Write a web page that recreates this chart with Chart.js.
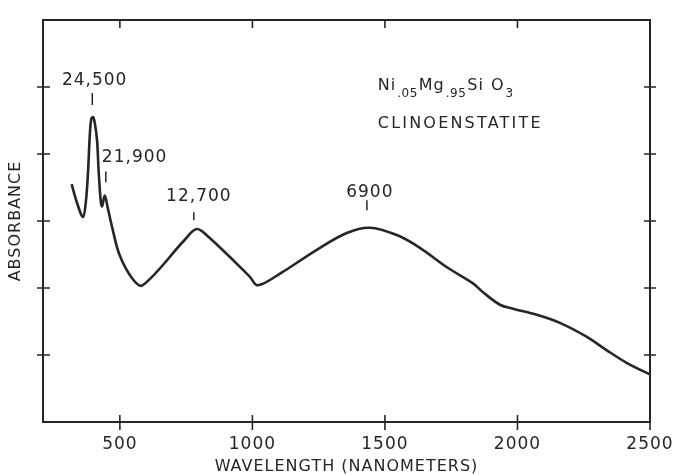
<!DOCTYPE html>
<html>
<head>
<meta charset="utf-8">
<script src="https://cdn.jsdelivr.net/npm/chart.js@4.4.0/dist/chart.umd.min.js"></script>
<style>
  html, body { margin: 0; padding: 0; background: #fff; }
  #wrap { width: 676px; height: 475px; }
</style>
</head>
<body>
<div id="wrap"><canvas id="spectrum-chart" width="676" height="475"></canvas></div>
<script>
// wavelength (nm) and absorbance
const wavelengths = [318, 340, 361, 372, 380, 386, 392, 399, 406, 414, 420, 428, 433, 443, 453, 470, 500, 549, 586, 745, 790, 835, 990, 1020, 1110, 1243, 1356, 1443, 1545, 1632, 1734, 1832, 1869, 1934, 1983, 2073, 2160, 2262, 2337, 2413, 2500];
const absorbance = [3.55, 3.25, 3.06, 3.30, 3.74, 4.24, 4.52, 4.55, 4.45, 4.20, 3.74, 3.29, 3.22, 3.38, 3.22, 2.92, 2.48, 2.13, 2.04, 2.72, 2.88, 2.76, 2.17, 2.04, 2.23, 2.57, 2.82, 2.90, 2.79, 2.60, 2.31, 2.07, 1.94, 1.75, 1.69, 1.60, 1.48, 1.27, 1.07, 0.88, 0.71];

const xTicks = [500, 1000, 1500, 2000, 2500];
const yTicks = [1, 2, 3, 4, 5];

// band labels (wavenumbers, cm-1) and where they sit in data units
const peakLabels = ["24,500", "21,900", "12,700", "6900"];
const peakLabelX = [405, 432, 798, 1443];
const peakLabelY = [5.09, 3.94, 3.37, 3.43];
const peakLabelAlign = ["center", "left", "center", "center"];
const peakMarkX = [396, 447, 779, 1432];
const peakMarkTop = [4.91, 3.74, 3.13, 3.31];
const peakMarkBottom = [4.73, 3.58, 3.01, 3.16];

const sampleX = 1473;
const sampleFormulaY = 4.95;
const sampleNameY = 4.45;

const ink = "#262626";
const letterFont = "DejaVu Sans";

const framePlugin = {
  id: "frame",
  beforeDraw(chart) {
    // lettering-guide text is widely spaced
    chart.ctx.letterSpacing = "1px";
  },
  afterDatasetsDraw(chart) {
    const { ctx, chartArea: a, scales } = chart;
    const x = scales.x, y = scales.y;
    ctx.save();
    ctx.strokeStyle = ink;
    ctx.lineWidth = 2;
    ctx.strokeRect(a.left, a.top, a.right - a.left, a.bottom - a.top);

    ctx.lineWidth = 1.6;
    ctx.beginPath();
    xTicks.forEach((v) => {
      const px = x.getPixelForValue(v);
      ctx.moveTo(px, a.bottom - 7);
      ctx.lineTo(px, a.bottom + 8);
      if (v < 2500) {
        ctx.moveTo(px, a.top);
        ctx.lineTo(px, a.top + 8);
      }
    });
    yTicks.forEach((v) => {
      const py = y.getPixelForValue(v);
      ctx.moveTo(a.left - 6, py);
      ctx.lineTo(a.left + 7, py);
      ctx.moveTo(a.right - 6, py);
      ctx.lineTo(a.right + 6, py);
    });
    ctx.stroke();

    // peak labels
    ctx.fillStyle = ink;
    ctx.font = "17px '" + letterFont + "'";
    ctx.letterSpacing = "1px";
    ctx.textBaseline = "middle";
    peakLabels.forEach((t, i) => {
      ctx.textAlign = peakLabelAlign[i];
      ctx.fillText(t, x.getPixelForValue(peakLabelX[i]), y.getPixelForValue(peakLabelY[i]));
    });
    ctx.lineWidth = 1.5;
    ctx.beginPath();
    peakMarkX.forEach((v, i) => {
      const px = x.getPixelForValue(v);
      ctx.moveTo(px, y.getPixelForValue(peakMarkTop[i]));
      ctx.lineTo(px, y.getPixelForValue(peakMarkBottom[i]));
    });
    ctx.stroke();

    // sample name with subscripts
    let sx = x.getPixelForValue(sampleX);
    const sy = y.getPixelForValue(sampleFormulaY);
    ctx.textAlign = "left";
    ctx.textBaseline = "alphabetic";
    const parts = [["Ni", 0], [".05", 1], ["Mg", 0], [".95", 1], ["Si ", 0], ["O", 0], ["3", 1]];
    parts.forEach(([t, sub]) => {
      ctx.font = (sub ? "12px '" : "16px '") + letterFont + "'";
      ctx.letterSpacing = sub ? "0.5px" : "1px";
      ctx.fillText(t, sx, sub ? sy + 7 : sy);
      sx += ctx.measureText(t).width + 1;
    });
    ctx.font = "16px '" + letterFont + "'";
    ctx.letterSpacing = "2.2px";
    ctx.textBaseline = "middle";
    ctx.fillText("CLINOENSTATITE", x.getPixelForValue(sampleX), y.getPixelForValue(sampleNameY));
    ctx.restore();
  },
};

const spectrumChart = new Chart(document.getElementById("spectrum-chart"), {
  type: "line",
  data: {
    datasets: [
      {
        data: wavelengths.map((w, i) => ({ x: w, y: absorbance[i] })),
        borderColor: ink,
        borderWidth: 2.6,
        pointRadius: 0,
        tension: 0.35,
        fill: false,
      },
    ],
  },
  options: {
    responsive: false,
    animation: false,
    layout: { padding: { top: 20, right: 26, left: 0, bottom: 0 } },
    plugins: { legend: { display: false }, tooltip: { enabled: false } },
    scales: {
      x: {
        type: "linear",
        min: 210,
        max: 2500,
        afterBuildTicks: (scale) => {
          scale.ticks = xTicks.map((v) => ({ value: v }));
        },
        afterFit: (scale) => {
          scale.height = 53;
        },
        grid: { display: false },
        border: { display: false },
        ticks: {
          color: ink,
          padding: 4,
          maxRotation: 0,
          font: { family: letterFont, size: 17 },
          callback: (v) => String(v),
        },
        title: {
          display: true,
          text: "WAVELENGTH (NANOMETERS)",
          color: ink,
          padding: { top: 0, bottom: -1 },
          font: { family: letterFont, size: 16 },
        },
      },
      y: {
        min: 0,
        max: 6,
        afterFit: (scale) => {
          scale.width = 43;
        },
        grid: { display: false },
        border: { display: false },
        ticks: { display: false },
        title: {
          display: true,
          text: "ABSORBANCE",
          color: ink,
          padding: { top: 6, bottom: 0 },
          font: { family: letterFont, size: 16 },
        },
      },
    },
  },
  plugins: [framePlugin],
});
</script>
</body>
</html>
